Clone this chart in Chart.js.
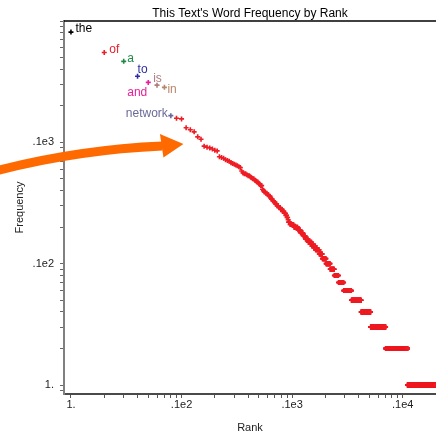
<!DOCTYPE html>
<html>
<head>
<meta charset="utf-8">
<title>Word Frequency by Rank</title>
<script src="https://cdn.jsdelivr.net/npm/chart.js@4.4.1/dist/chart.umd.min.js"></script>
<style>
  html, body { margin: 0; padding: 0; background: #fff; }
  #wrap { position: relative; width: 436px; height: 433px; }
</style>
</head>
<body>
<div id="wrap"><canvas id="freqChart"></canvas></div>
<script>
// the most frequent words, in rank order
const topWords = ['the', 'of', 'a', 'to', 'and', 'is', 'in', 'network'];

// counts of the words at ranks 1..92
const topFreqs = [810, 550, 465, 350, 312, 296, 284, 166, 158, 156,
  132, 127, 122, 111, 106, 93, 91, 90, 88, 86,
  85, 76, 75, 74, 72, 71, 70, 68, 67, 66,
  65, 64, 63, 62, 58, 56, 55, 55, 54, 53,
  53, 52, 51, 50, 50, 49, 48, 47, 47, 46,
  45, 44, 44, 41, 40, 39, 39, 38, 38, 37,
  37, 36, 36, 35, 34, 34, 33, 33, 32, 32,
  31, 31, 30, 30, 30, 29, 29, 29, 28, 28,
  28, 27, 27, 27, 26, 26, 26, 25, 25, 24,
  24, 23];

// further down many words share a count: the count, and how many words have it
const tailFreqs  = [22, 21, 20, 19, 18, 17, 16, 15, 14, 13, 12, 11, 10, 9, 8, 7, 6, 5, 4, 3, 2, 1];
const tailCounts = [3, 8, 9, 6, 7, 6, 8, 11, 12, 13, 12, 15, 18, 20, 22, 30, 51, 77, 92, 188, 405, 900];

// axis labels (Maple style)
const xTickVals = [1, 10, 100, 1000];
const xTickText = ['1.', '.1e2', '.1e3', '.1e4'];
const yTickVals = [1, 10, 100];
const yTickText = ['1.', '.1e2', '.1e3'];

// colours of the labelled words
const wordColors = ['#000000', '#e8202a', '#1e8a46', '#2e2e9e', '#e8209a', '#b07c7c', '#b8866b', '#6a6a9a'];
const dotColor = '#ee1c24';

// label placement next to each labelled point: dx, dy, align
const labelPlace = [
  [4.5, 0, 'left'], [5, 0, 'left'], [3.5, 1, 'left'], [0, -3, 'left'],
  [-1, 14, 'right'], [0.5, -3, 'center'], [3, 6, 'left'], [-3, 1, 'right']
];

// arrow tip, in data units
const arrowTip = { x: 10.4, y: 97 };

const FONT = "'Liberation Sans', Arial, sans-serif";
Chart.defaults.font.family = FONT;

// one point per rank
const points = [];
topFreqs.forEach(f => points.push({ x: points.length + 1, y: f }));
tailFreqs.forEach((f, i) => {
  for (let k = 0; k < tailCounts[i]; k++) points.push({ x: points.length + 1, y: f });
});

function nearly(v, list) {
  return list.findIndex(t => Math.abs(v - t) < t * 1e-6);
}

// keep only 1..9 x 10^k ticks
function keepLogSteps(scale) {
  scale.ticks = scale.ticks.filter(t => {
    const sig = t.value / Math.pow(10, Math.floor(Math.log10(t.value) + 1e-9));
    return Math.abs(sig - Math.round(sig)) < 1e-6;
  });
}

const titlePlugin = {
  id: 'topTitle',
  afterDraw(chart) {
    const { ctx, chartArea } = chart;
    ctx.save();
    ctx.strokeStyle = '#000';
    ctx.lineWidth = 1.5;
    ctx.beginPath();
    ctx.moveTo(chartArea.left, chartArea.top);
    ctx.lineTo(chartArea.right, chartArea.top);
    ctx.stroke();
    ctx.fillStyle = '#000';
    ctx.font = '12px ' + FONT;
    ctx.textAlign = 'center';
    ctx.textBaseline = 'middle';
    ctx.fillText("This Text's Word Frequency by Rank", (chartArea.left + chartArea.right) / 2, 13.5);
    ctx.restore();
  }
};

const wordLabels = {
  id: 'wordLabels',
  afterDatasetsDraw(chart) {
    const { ctx } = chart;
    const meta = chart.getDatasetMeta(0);
    ctx.save();
    ctx.font = '12px ' + FONT;
    ctx.textBaseline = 'alphabetic';
    topWords.forEach((w, i) => {
      const p = meta.data[i];
      const [dx, dy, align] = labelPlace[i];
      ctx.fillStyle = wordColors[i];
      ctx.textAlign = align;
      ctx.fillText(w, p.x + dx, p.y + dy);
    });
    ctx.restore();
  }
};

const arrowPlugin = {
  id: 'arrow',
  afterDraw(chart) {
    const { ctx, scales } = chart;
    const tx = scales.x.getPixelForValue(arrowTip.x);
    const ty = scales.y.getPixelForValue(arrowTip.y);
    ctx.save();
    ctx.strokeStyle = '#ff6a00';
    ctx.fillStyle = '#ff6a00';
    ctx.lineWidth = 9;
    ctx.beginPath();
    ctx.moveTo(tx - 186, ty + 26.5);
    ctx.quadraticCurveTo(tx - 104, ty + 5.5, tx - 21, ty + 2);
    ctx.stroke();
    ctx.beginPath();
    ctx.moveTo(tx, ty);
    ctx.lineTo(tx - 23.5, ty - 10);
    ctx.lineTo(tx - 20, ty + 13.5);
    ctx.closePath();
    ctx.fill();
    ctx.restore();
  }
};

new Chart(document.getElementById('freqChart'), {
  type: 'scatter',
  data: {
    datasets: [{
      label: 'words',
      data: points,
      pointStyle: 'cross',
      pointRadius: 2.5,
      pointBorderWidth: 1.6,
      pointBorderColor: ctx => ctx.dataIndex < topWords.length ? wordColors[ctx.dataIndex] : dotColor,
      pointBackgroundColor: dotColor
    }]
  },
  options: {
    responsive: true,
    maintainAspectRatio: false,
    animation: false,
    events: [],
    layout: { autoPadding: false, padding: { top: 21, left: 0, right: 0, bottom: 0 } },
    plugins: {
      legend: { display: false },
      tooltip: { enabled: false },
      title: { display: false }
    },
    scales: {
      x: {
        type: 'logarithmic',
        min: 0.865,
        max: 2000,
        afterBuildTicks: keepLogSteps,
        afterFit: s => { s.height = 39; },
        grid: { drawOnChartArea: false, drawTicks: true, tickLength: 4, color: '#555' },
        border: { color: '#4a4a4a', width: 2 },
        ticks: {
          autoSkip: false,
          maxRotation: 0,
          padding: 0,
          color: '#222',
          font: { size: 11 },
          callback: v => { const i = nearly(v, xTickVals); return i < 0 ? '' : xTickText[i]; }
        },
        title: { display: true, text: 'Rank', color: '#222', font: { size: 11, lineHeight: 1 }, padding: { top: 0, bottom: 0 } }
      },
      y: {
        type: 'logarithmic',
        min: 0.843,
        max: 1000,
        afterBuildTicks: keepLogSteps,
        afterFit: s => { s.width = 64; },
        grid: { drawOnChartArea: false, drawTicks: true, tickLength: 4, color: '#666' },
        border: { color: '#808080', width: 2 },
        ticks: {
          autoSkip: false,
          padding: 6,
          color: '#222',
          font: { size: 11 },
          callback: v => { const i = nearly(v, yTickVals); return i < 0 ? '' : yTickText[i]; }
        },
        title: { display: true, text: 'Frequency', color: '#222', font: { size: 11 }, padding: { top: 13, bottom: 0 } }
      }
    }
  },
  plugins: [titlePlugin, wordLabels, arrowPlugin]
});
</script>
</body>
</html>
